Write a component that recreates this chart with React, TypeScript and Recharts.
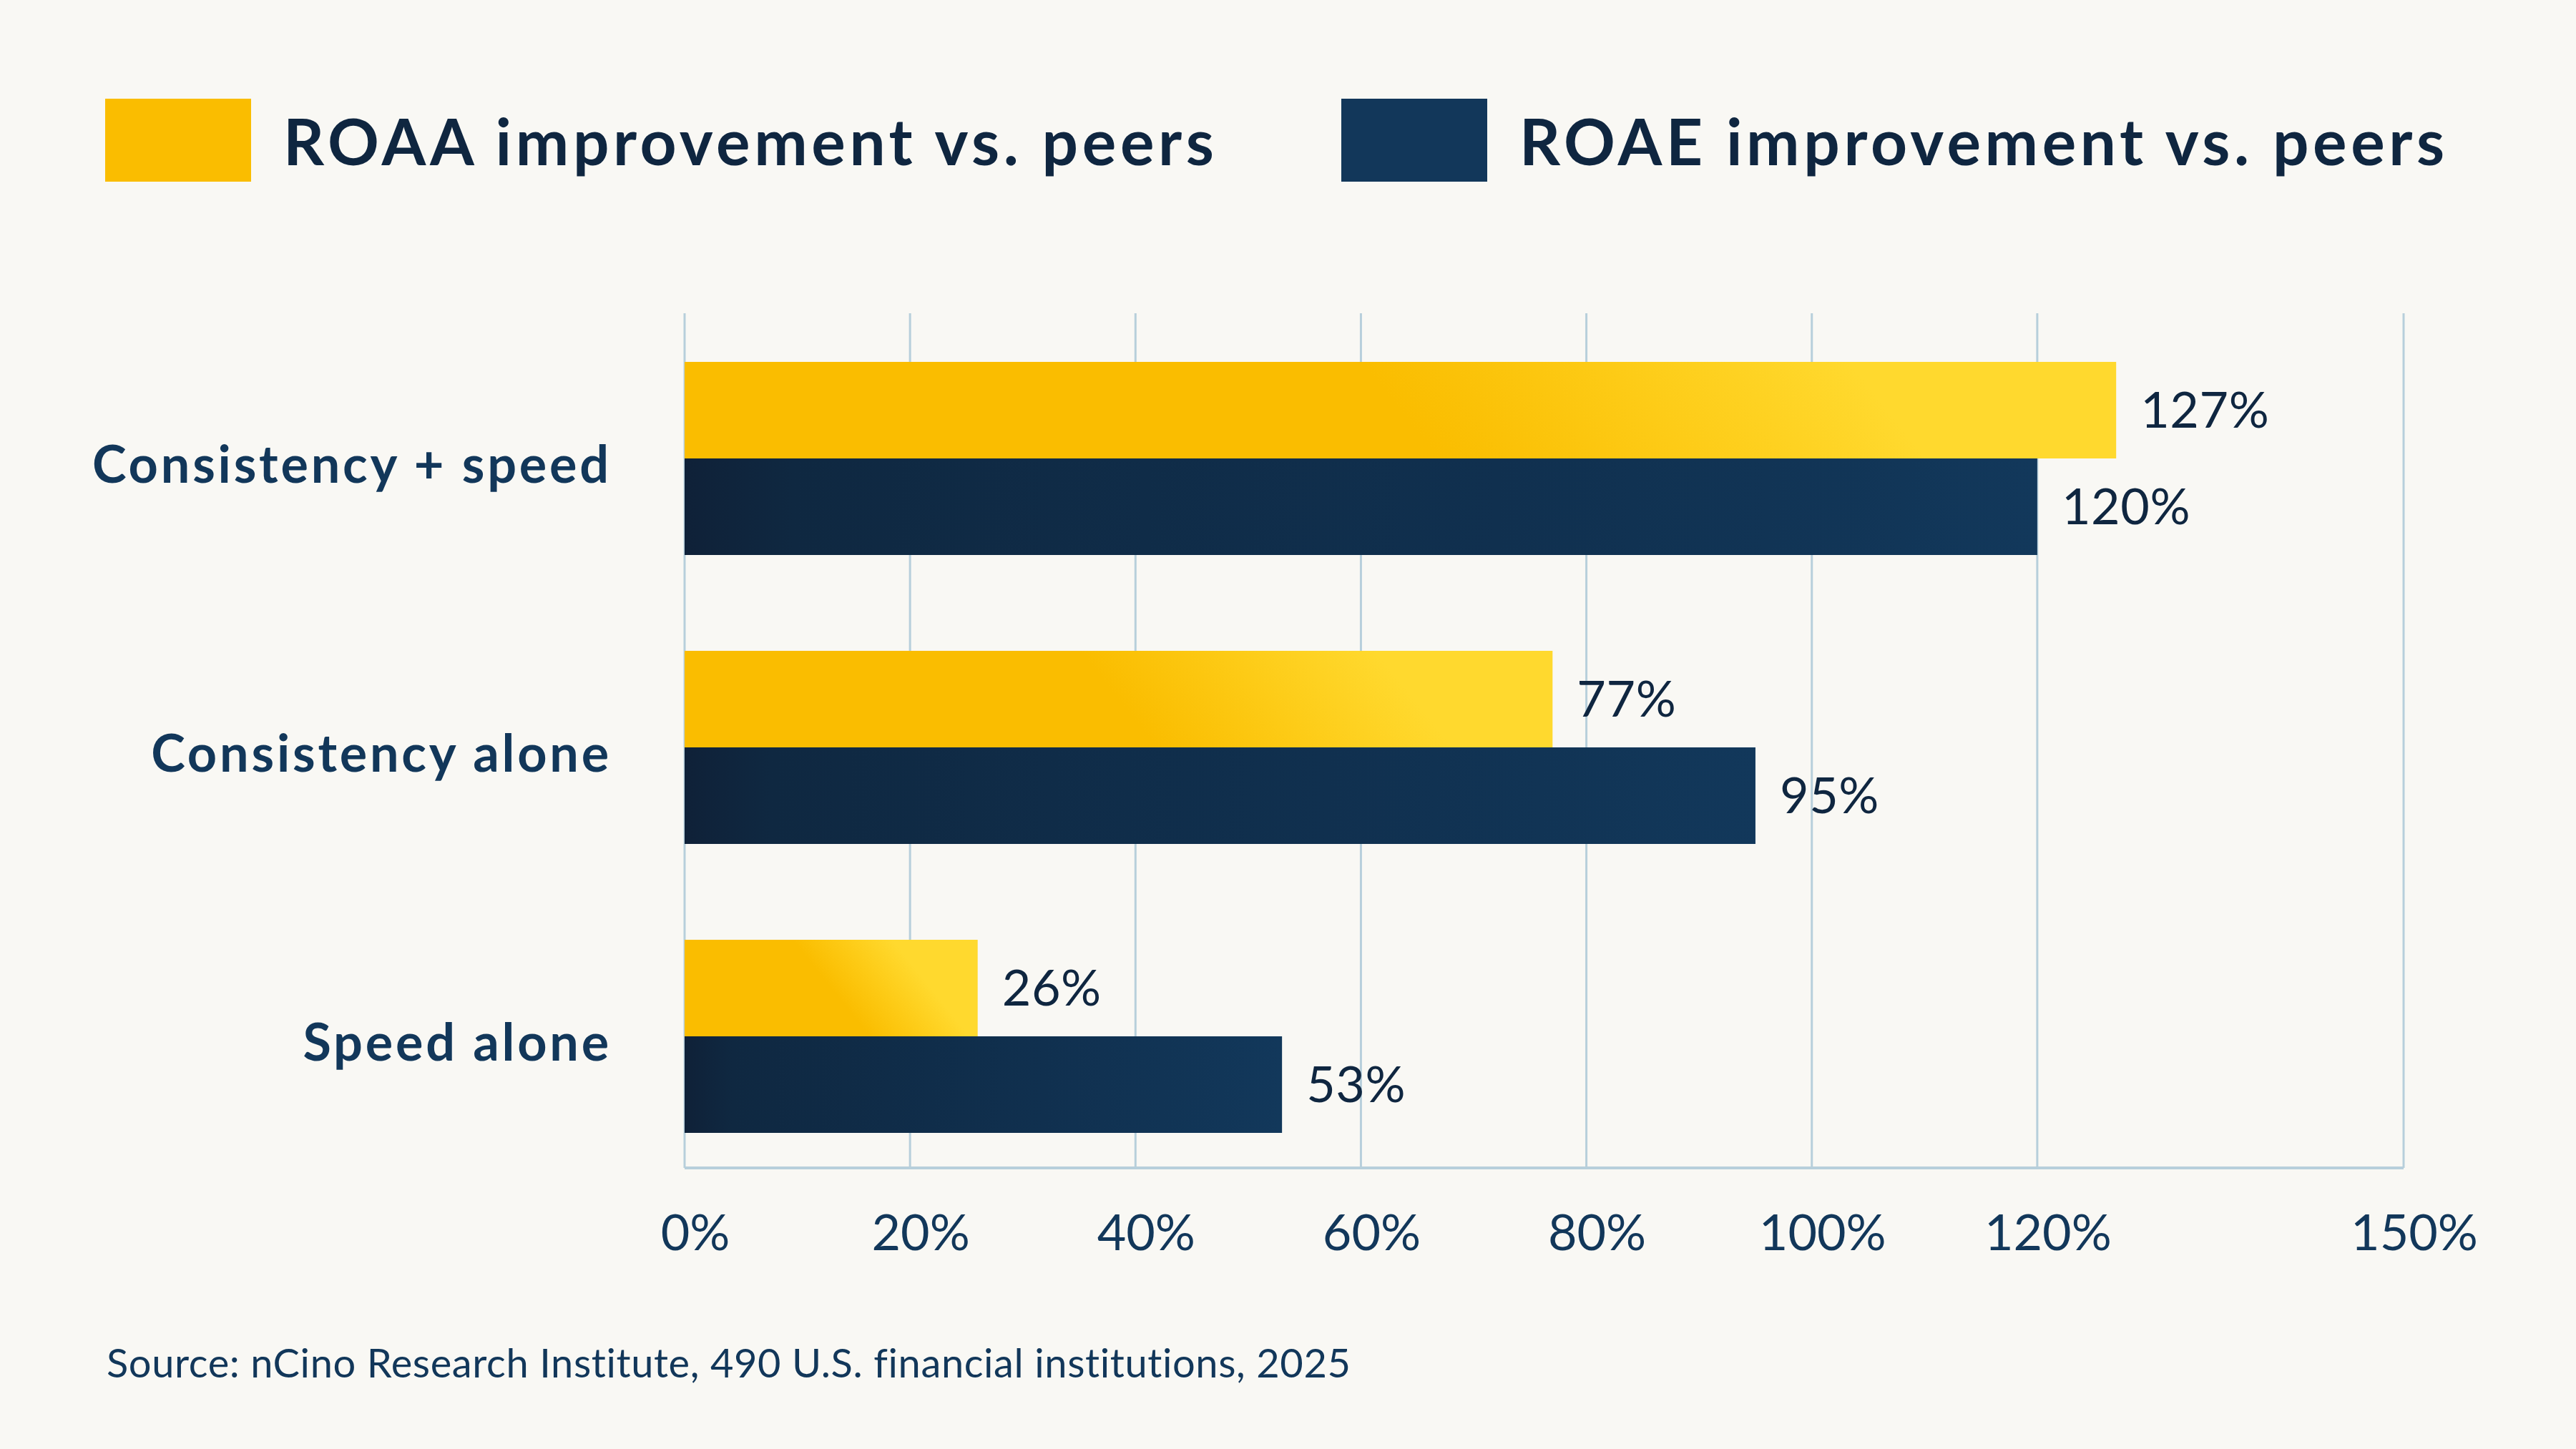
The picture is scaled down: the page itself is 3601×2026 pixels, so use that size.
import React from "react";
import {
  BarChart,
  Bar,
  XAxis,
  YAxis,
  CartesianGrid,
  LabelList,
} from "recharts";

// ---- data ----
const CATEGORIES = ["Consistency + speed", "Consistency alone", "Speed alone"];
const ROAA = [127, 77, 26];
const ROAE = [120, 95, 53];
const SERIES_NAMES = ["ROAA improvement vs. peers", "ROAE improvement vs. peers"];
const X_TICKS = [0, 20, 40, 60, 80, 100, 120, 152.5];
const X_TICK_LABELS = ["0%", "20%", "40%", "60%", "80%", "100%", "120%", "150%"];
const SOURCE = "Source: nCino Research Institute, 490 U.S. financial institutions, 2025";

const rows = CATEGORIES.map((name, i) => ({ name, roaa: ROAA[i], roae: ROAE[i] }));

// ---- layout / style ----
const W = 3601;
const H = 2026;
const PLOT_LEFT = 957;
const PLOT_RIGHT = 3360;
const PLOT_TOP = 438;
const PLOT_BOTTOM = 1633;
const X_AXIS_H = 150;
const FONT = "Lato, 'Open Sans', sans-serif";
const BG = "#F9F8F4";
const GRID = "#B7CFDB";
const INK = "#0F2640";
const INK_BLUE = "#12375A";

const GoldBar = (props: any) => {
  const { x, y, width, height, index } = props;
  if (!width || width <= 0) return null;
  const id = `gold-grad-${index}`;
  // angled sheen: isolines lean 0.8px right per px down
  const gx1 = x + 0.5 * width;
  const gy = y + height / 2;
  const L = (0.34 * width) / 1.28;
  const gx2 = gx1 + L / 1.28;
  const gy2 = gy - (L * 0.8) / 1.28;
  return (
    <g>
      <defs>
        <linearGradient id={id} gradientUnits="userSpaceOnUse" x1={gx1} y1={gy} x2={gx2} y2={gy2}>
          <stop offset="0" stopColor="#FABD00" />
          <stop offset="0.5" stopColor="#FDCB16" />
          <stop offset="1" stopColor="#FFD92E" />
        </linearGradient>
      </defs>
      <rect x={x} y={y} width={width} height={height} fill={`url(#${id})`} />
    </g>
  );
};

const NavyBar = (props: any) => {
  const { x, y, width, height } = props;
  if (!width || width <= 0) return null;
  return <rect x={x} y={y} width={width} height={height} fill="url(#navy-grad)" />;
};

const ValueLabel = (props: any) => {
  const { x, y, width, height, value } = props;
  return (
    <text
      x={x + width + 34}
      y={y + height / 2 + 24}
      textAnchor="start"
      fill={INK}
      fontFamily={FONT}
      fontSize={70}
      letterSpacing={0.6}
    >
      {`${value}%`}
    </text>
  );
};

const XTick = (props: any) => {
  const { x, payload } = props;
  const i = X_TICKS.indexOf(payload.value);
  return (
    <text
      x={x + 15}
      y={PLOT_BOTTOM + 115}
      textAnchor="middle"
      fill={INK_BLUE}
      fontFamily={FONT}
      fontSize={70}
    >
      {X_TICK_LABELS[i]}
    </text>
  );
};

const YTick = (props: any) => {
  const { y, payload } = props;
  return (
    <text
      x={855}
      y={y + 34}
      textAnchor="end"
      fill={INK_BLUE}
      fontFamily={FONT}
      fontWeight={700}
      fontSize={72}
      letterSpacing={3.8}
    >
      {payload.value}
    </text>
  );
};

const Legend = () => {
  const items = [
    { name: SERIES_NAMES[0], color: "#FABD00", x: 147 },
    { name: SERIES_NAMES[1], color: "#12375A", x: 1875 },
  ];
  return (
    <g>
      {items.map((it) => (
        <g key={it.name}>
          <rect x={it.x} y={138} width={204} height={116} fill={it.color} />
          <text
            x={it.x + 249}
            y={231}
            fill={INK}
            fontFamily={FONT}
            fontWeight={700}
            fontSize={89}
            letterSpacing={5.6}
          >
            {it.name}
          </text>
        </g>
      ))}
    </g>
  );
};

export default function App() {
  return (
    <div
      style={{
        position: "absolute",
        left: 0,
        top: 0,
        width: W,
        height: H,
        background: BG,
        overflow: "hidden",
      }}
    >
      <BarChart
        width={W}
        height={H}
        data={rows}
        layout="vertical"
        barSize={135}
        barGap={0}
        margin={{
          top: PLOT_TOP,
          right: W - PLOT_RIGHT,
          left: 0,
          bottom: H - PLOT_BOTTOM - X_AXIS_H,
        }}
      >
        <defs>
          <linearGradient id="navy-grad" x1="0" y1="0" x2="1" y2="0">
            <stop offset="0" stopColor="#0F2138" />
            <stop offset="0.08" stopColor="#0F2841" />
            <stop offset="0.6" stopColor="#10304F" />
            <stop offset="1" stopColor="#12385B" />
          </linearGradient>
        </defs>
        <CartesianGrid horizontal={false} stroke={GRID} strokeWidth={3} />
        <XAxis
          type="number"
          domain={[0, 152.5]}
          ticks={X_TICKS}
          interval={0}
          height={X_AXIS_H}
          tickLine={false}
          axisLine={{ stroke: GRID, strokeWidth: 4 }}
          tick={<XTick />}
        />
        <YAxis
          type="category"
          dataKey="name"
          width={PLOT_LEFT}
          padding={{ top: 1, bottom: -18 }}
          tickLine={false}
          axisLine={false}
          tick={<YTick />}
        />
        <Bar dataKey="roaa" isAnimationActive={false} shape={<GoldBar />}>
          <LabelList dataKey="roaa" content={<ValueLabel />} />
        </Bar>
        <Bar dataKey="roae" isAnimationActive={false} shape={<NavyBar />}>
          <LabelList dataKey="roae" content={<ValueLabel />} />
        </Bar>
      </BarChart>
      <svg
        width={W}
        height={H}
        style={{ position: "absolute", left: 0, top: 0, pointerEvents: "none" }}
      >
        <Legend />
        <text
          x={149}
          y={1926}
          fill={INK_BLUE}
          fontFamily={FONT}
          fontSize={56}
          letterSpacing={0.6}
        >
          {SOURCE}
        </text>
      </svg>
    </div>
  );
}
